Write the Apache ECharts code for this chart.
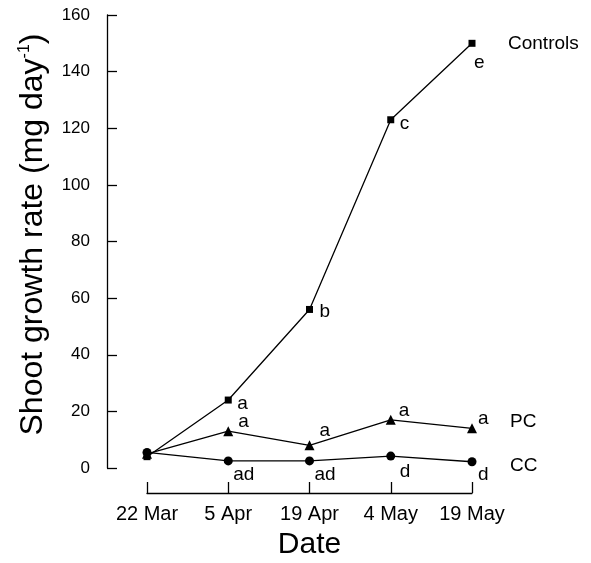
<!DOCTYPE html>
<html>
<head>
<meta charset="utf-8">
<script src="https://cdn.jsdelivr.net/npm/echarts@6/dist/echarts.min.js"></script>
<style>
  html, body { margin: 0; padding: 0; background: #fff; }
  #chart { width: 591px; height: 563px; }
</style>
</head>
<body>
<div id="chart"></div>
<script>
// dates on the x axis
var dates = ['22 Mar', '5 Apr', '19 Apr', '4 May', '19 May'];

// shoot growth rate, mg day-1
var controls = [4, 24, 56, 123, 150];
var pc = [5, 13, 8, 17, 14];
var cc = [5.5, 2.5, 2.5, 4.2, 2.2];

// significance letters (empty = none)
var controlsLetters = ['', 'a', 'b', 'c', 'e'];
var pcLetters = ['', 'a', 'a', 'a', 'a'];
var ccLetters = ['', 'ad', 'ad', 'd', 'd'];

var font = 'Liberation Sans, Arial, Helvetica, sans-serif';

function withLetters(values, letters, offsets) {
  return values.map(function (v, i) {
    return {
      value: v,
      label: {
        show: letters[i] !== '',
        formatter: letters[i],
        offset: offsets[i]
      }
    };
  });
}

function makeSeries(name, values, letters, offsets, symbol, size, endOffset) {
  return {
    name: name,
    type: 'line',
    data: withLetters(values, letters, offsets),
    symbol: symbol,
    symbolSize: size,
    lineStyle: { color: '#000', width: 1.3 },
    itemStyle: { color: '#000' },
    label: {
      position: 'inside',
      color: '#000',
      fontFamily: font,
      fontSize: 19,
      align: 'left',
      verticalAlign: 'middle'
    },
    endLabel: {
      show: true,
      formatter: name,
      color: '#000',
      fontFamily: font,
      fontSize: 19,
      offset: endOffset
    },
    emphasis: { disabled: true },
    silent: true,
    animation: false
  };
}

var chart = echarts.init(document.getElementById('chart'));
chart.setOption({
  animation: false,
  grid: { left: 147, right: 119, top: 15, bottom: 95, outerBoundsMode: 'none', containLabel: false },
  xAxis: {
    type: 'category',
    data: dates,
    boundaryGap: false,
    offset: 25,
    name: 'Date',
    nameLocation: 'middle',
    nameGap: 37,
    nameTextStyle: { color: '#000', fontFamily: font, fontSize: 30 },
    axisLine: { onZero: false, lineStyle: { color: '#000', width: 1.3 } },
    axisTick: { inside: true, length: 11, alignWithLabel: true, lineStyle: { color: '#000', width: 1.3 } },
    axisLabel: { interval: 0, color: '#000', fontFamily: font, fontSize: 20, margin: 11 },
    splitLine: { show: false }
  },
  yAxis: {
    type: 'value',
    min: 0,
    max: 160,
    interval: 20,
    offset: 40,
    name: '{a|Shoot growth rate (mg day}{s|-1}{a|)}',
    nameLocation: 'middle',
    nameGap: 58,
    nameTextStyle: {
      color: '#000',
      padding: [0, 0, 0, 14],
      rich: {
        a: { fontFamily: font, fontSize: 32, color: '#000' },
        s: { fontFamily: font, fontSize: 16, color: '#000', verticalAlign: 'top', padding: [0, 0, 15, 0] }
      }
    },
    axisLine: { show: true, onZero: false, lineStyle: { color: '#000', width: 1.3 } },
    axisTick: { show: true, inside: true, length: 10, lineStyle: { color: '#000', width: 1.3 } },
    axisLabel: { color: '#000', fontFamily: font, fontSize: 17, margin: 17 },
    splitLine: { show: false }
  },
  series: [
    makeSeries('Controls', controls, controlsLetters,
      [[0, 0], [9, 4], [10, 2], [9, 4], [2, 19]], 'rect', 7, [28, 0]),
    makeSeries('PC', pc, pcLetters,
      [[0, 0], [10, -9], [10, -15], [8, -9], [6, -10]], 'triangle', 10, [30, -7]),
    makeSeries('CC', cc, ccLetters,
      [[0, 0], [5, 14], [5, 14], [9, 16], [6, 13]], 'circle', 9, [30, 4])
  ]
});
</script>
</body>
</html>
